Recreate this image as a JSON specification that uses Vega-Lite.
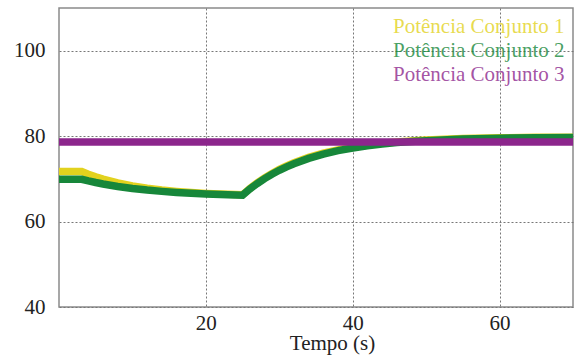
{
  "$schema": "https://vega.github.io/schema/vega-lite/v6.json",
  "width": 514,
  "height": 299,
  "autosize": "none",
  "padding": {"left": 59, "top": 8, "right": 1, "bottom": 48},
  "background": "white",
  "config": {
    "view": {"stroke": "#8a8a8a", "strokeWidth": 1.5},
    "font": "Liberation Serif"
  },
  "data": {"values": [
    {"t": 0, "p": 71.7, "s": "Potência Conjunto 1"},
    {"t": 3.1, "p": 71.7, "s": "Potência Conjunto 1"},
    {"t": 4, "p": 71.09, "s": "Potência Conjunto 1"},
    {"t": 5, "p": 70.48, "s": "Potência Conjunto 1"},
    {"t": 6, "p": 69.94, "s": "Potência Conjunto 1"},
    {"t": 8, "p": 69.05, "s": "Potência Conjunto 1"},
    {"t": 10, "p": 68.35, "s": "Potência Conjunto 1"},
    {"t": 12, "p": 67.81, "s": "Potência Conjunto 1"},
    {"t": 14, "p": 67.39, "s": "Potência Conjunto 1"},
    {"t": 16, "p": 67.06, "s": "Potência Conjunto 1"},
    {"t": 18, "p": 66.8, "s": "Potência Conjunto 1"},
    {"t": 20, "p": 66.6, "s": "Potência Conjunto 1"},
    {"t": 22, "p": 66.45, "s": "Potência Conjunto 1"},
    {"t": 24, "p": 66.33, "s": "Potência Conjunto 1"},
    {"t": 25, "p": 66.28, "s": "Potência Conjunto 1"},
    {"t": 26, "p": 67.75, "s": "Potência Conjunto 1"},
    {"t": 27, "p": 69.07, "s": "Potência Conjunto 1"},
    {"t": 28, "p": 70.24, "s": "Potência Conjunto 1"},
    {"t": 29, "p": 71.28, "s": "Potência Conjunto 1"},
    {"t": 30, "p": 72.21, "s": "Potência Conjunto 1"},
    {"t": 31, "p": 73.04, "s": "Potência Conjunto 1"},
    {"t": 32, "p": 73.78, "s": "Potência Conjunto 1"},
    {"t": 34, "p": 75.03, "s": "Potência Conjunto 1"},
    {"t": 36, "p": 76.02, "s": "Potência Conjunto 1"},
    {"t": 38, "p": 76.8, "s": "Potência Conjunto 1"},
    {"t": 40, "p": 77.43, "s": "Potência Conjunto 1"},
    {"t": 42, "p": 77.93, "s": "Potência Conjunto 1"},
    {"t": 44, "p": 78.32, "s": "Potência Conjunto 1"},
    {"t": 46, "p": 78.64, "s": "Potência Conjunto 1"},
    {"t": 48, "p": 78.89, "s": "Potência Conjunto 1"},
    {"t": 50, "p": 79.08, "s": "Potência Conjunto 1"},
    {"t": 55, "p": 79.42, "s": "Potência Conjunto 1"},
    {"t": 60, "p": 79.61, "s": "Potência Conjunto 1"},
    {"t": 65, "p": 79.72, "s": "Potência Conjunto 1"},
    {"t": 70, "p": 79.77, "s": "Potência Conjunto 1"},
    {"t": 0, "p": 69.9, "s": "Potência Conjunto 2"},
    {"t": 3.1, "p": 69.9, "s": "Potência Conjunto 2"},
    {"t": 4, "p": 69.52, "s": "Potência Conjunto 2"},
    {"t": 5, "p": 69.14, "s": "Potência Conjunto 2"},
    {"t": 6, "p": 68.8, "s": "Potência Conjunto 2"},
    {"t": 8, "p": 68.22, "s": "Potência Conjunto 2"},
    {"t": 10, "p": 67.75, "s": "Potência Conjunto 2"},
    {"t": 12, "p": 67.37, "s": "Potência Conjunto 2"},
    {"t": 14, "p": 67.07, "s": "Potência Conjunto 2"},
    {"t": 16, "p": 66.82, "s": "Potência Conjunto 2"},
    {"t": 18, "p": 66.62, "s": "Potência Conjunto 2"},
    {"t": 20, "p": 66.46, "s": "Potência Conjunto 2"},
    {"t": 22, "p": 66.34, "s": "Potência Conjunto 2"},
    {"t": 24, "p": 66.23, "s": "Potência Conjunto 2"},
    {"t": 25, "p": 66.19, "s": "Potência Conjunto 2"},
    {"t": 26, "p": 67.63, "s": "Potência Conjunto 2"},
    {"t": 27, "p": 68.91, "s": "Potência Conjunto 2"},
    {"t": 28, "p": 70.06, "s": "Potência Conjunto 2"},
    {"t": 29, "p": 71.08, "s": "Potência Conjunto 2"},
    {"t": 30, "p": 72.0, "s": "Potência Conjunto 2"},
    {"t": 31, "p": 72.82, "s": "Potência Conjunto 2"},
    {"t": 32, "p": 73.55, "s": "Potência Conjunto 2"},
    {"t": 34, "p": 74.8, "s": "Potência Conjunto 2"},
    {"t": 36, "p": 75.8, "s": "Potência Conjunto 2"},
    {"t": 38, "p": 76.6, "s": "Potência Conjunto 2"},
    {"t": 40, "p": 77.23, "s": "Potência Conjunto 2"},
    {"t": 42, "p": 77.74, "s": "Potência Conjunto 2"},
    {"t": 44, "p": 78.15, "s": "Potência Conjunto 2"},
    {"t": 46, "p": 78.48, "s": "Potência Conjunto 2"},
    {"t": 48, "p": 78.74, "s": "Potência Conjunto 2"},
    {"t": 50, "p": 78.95, "s": "Potência Conjunto 2"},
    {"t": 55, "p": 79.31, "s": "Potência Conjunto 2"},
    {"t": 60, "p": 79.51, "s": "Potência Conjunto 2"},
    {"t": 65, "p": 79.63, "s": "Potência Conjunto 2"},
    {"t": 70, "p": 79.7, "s": "Potência Conjunto 2"},
    {"t": 0, "p": 78.6, "s": "Potência Conjunto 3"},
    {"t": 20, "p": 78.6, "s": "Potência Conjunto 3"},
    {"t": 40, "p": 78.6, "s": "Potência Conjunto 3"},
    {"t": 70, "p": 78.6, "s": "Potência Conjunto 3"}
  ]},
  "mark": {"type": "line", "strokeWidth": 7.5, "clip": true, "strokeCap": "butt"},
  "encoding": {
    "x": {
      "field": "t", "type": "quantitative",
      "scale": {"domain": [0, 70], "nice": false, "zero": false},
      "axis": {
        "title": "Tempo (s)", "values": [20, 40, 60],
        "domain": false, "ticks": false,
        "grid": true, "gridColor": "#777", "gridDash": [2, 2], "gridWidth": 1,
        "labelFont": "Liberation Serif", "labelFontSize": 21, "labelColor": "#222",
        "labelPadding": 5,
        "titleFont": "Liberation Serif", "titleFontSize": 21, "titleFontWeight": "normal", "titleColor": "#222",
        "titleX": 273, "titleY": 42, "titleBaseline": "alphabetic", "titleAnchor": "middle"
      }
    },
    "y": {
      "field": "p", "type": "quantitative",
      "scale": {"domain": [40, 110], "nice": false, "zero": false},
      "axis": {
        "title": null, "values": [40, 60, 80, 100],
        "domain": false, "ticks": false,
        "grid": true, "gridColor": "#777", "gridDash": [2, 2], "gridWidth": 1,
        "labelFont": "Liberation Serif", "labelFontSize": 21, "labelColor": "#222",
        "labelPadding": 14
      }
    },
    "color": {
      "field": "s", "type": "nominal",
      "scale": {
        "domain": ["Potência Conjunto 1", "Potência Conjunto 2", "Potência Conjunto 3"],
        "range": ["#e2d21e", "#17873a", "#8c268c"]
      },
      "legend": {
        "orient": "none", "legendX": 313, "legendY": 8,
        "title": null, "symbolSize": 0, "symbolStrokeWidth": 0, "symbolOpacity": 0,
        "labelOffset": 0, "labelLimit": 400, "labelFont": "Liberation Serif", "labelFontSize": 21,
        "rowPadding": 2,
        "encode": {"labels": {"update": {"fill": {"scale": "color", "field": "value"}, "fillOpacity": {"value": 0.8}}}}
      }
    }
  }
}
